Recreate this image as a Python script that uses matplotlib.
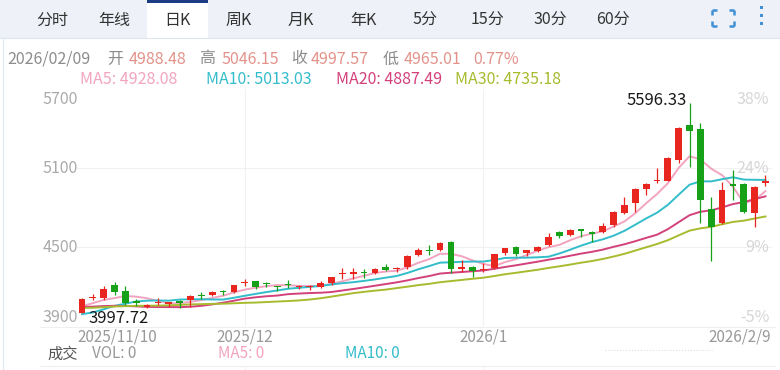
import matplotlib
matplotlib.use("Agg")
import matplotlib.pyplot as plt
import numpy as np
import pandas as pd

plt.rcParams['font.family'] = ['Noto Sans CJK SC', 'DejaVu Sans']

# ---- data (daily K, 2025/11/10 .. 2026/02/09) ----
opens = [4000, 4112, 4113, 4211, 4166, 4090, 4045, 4075, 4070, 4092,
         4100, 4130, 4138, 4168, 4158, 4225, 4240, 4222, 4198, 4215,
         4195, 4193, 4198, 4225, 4295, 4298, 4308, 4305, 4350, 4330,
         4348, 4440, 4480, 4475, 4540, 4335, 4350, 4325, 4340, 4455,
         4500, 4455, 4470, 4515, 4614, 4590, 4635, 4615, 4614, 4667,
         4758, 4834, 4940, 5000, 5005, 5160, 5427, 5400, 4790, 4682,
         4975, 4978, 4760, 4988.48]
highs = [4112, 4140, 4204, 4234, 4204, 4105, 4065, 4110, 4085, 4095,
         4135, 4160, 4165, 4170, 4215, 4255, 4245, 4235, 4205, 4250,
         4210, 4215, 4240, 4275, 4340, 4340, 4330, 4340, 4370, 4345,
         4440, 4490, 4515, 4540, 4545, 4400, 4355, 4375, 4450, 4495,
         4505, 4480, 4510, 4610, 4625, 4635, 4640, 4625, 4680, 4770,
         4880, 4950, 4985, 5100, 5180, 5410, 5596.33, 5445, 4880, 4990,
         5085, 4985, 4965, 5046.15]
lows = [3997.72, 4100, 4098, 4135, 4060, 4052, 4035, 4060, 4045, 4040,
        4045, 4105, 4130, 4135, 4150, 4205, 4180, 4200, 4165, 4190,
        4180, 4175, 4185, 4215, 4255, 4260, 4265, 4295, 4320, 4310,
        4335, 4430, 4440, 4470, 4300, 4310, 4270, 4310, 4330, 4440,
        4430, 4430, 4460, 4510, 4570, 4585, 4575, 4540, 4605, 4650,
        4750, 4766, 4895, 4985, 5000, 5140, 5105, 4680, 4394, 4675,
        4857, 4755, 4650, 4965.01]
closes = [4105, 4120, 4181, 4160, 4075, 4078, 4058, 4080, 4072, 4078,
          4128, 4125, 4160, 4155, 4210, 4230, 4200, 4218, 4196, 4208,
          4198, 4198, 4226, 4272, 4305, 4305, 4300, 4330, 4328, 4335,
          4432, 4475, 4470, 4530, 4335, 4340, 4318, 4333, 4447, 4490,
          4450, 4475, 4500, 4575, 4580, 4628, 4625, 4600, 4660, 4766,
          4820, 4940, 4975, 5010, 5176, 5404, 5380, 4857, 4655, 4933,
          4965, 4766, 4959.39, 4997.57]
# closes before the visible window, only used to start the moving averages
prior_closes = [4060, 4045, 4010, 3990, 4020, 4035, 4050, 4000, 3990, 4010,
                4070, 4090, 4120, 4110, 4130, 4140, 4100, 4080, 4090, 4060,
                3990, 3940, 3900, 3910, 3910, 4000, 4060, 4090, 3994]

last_date = "2026/02/09"
last_chg = 0.77
ma_periods = [5, 10, 20, 30]
ma_last = [4928.08, 5013.03, 4887.49, 4735.18]
ma_colors = ['#f2a4c0', '#33bdca', '#d3417b', '#a8bb2e']

date_idx = [0, 15, 37, 63]
date_labels = ["2025/11/10", "2025/12", "2026/1", "2026/2/9"]
month_idx = [15, 37]

y_ticks = [3900, 4500, 5100, 5700]
pct_labels = ["-5%", "9%", "24%", "38%"]

tabs = ["分时", "年线", "日K", "周K", "月K", "年K", "5分", "15分", "30分", "60分"]
active_tab = "日K"

RED = '#e8261f'
GREEN = '#17a118'
GRAY = '#8c8c8c'
VALC = '#e3928a'

W, H = 780, 370
fig = plt.figure(figsize=(W / 100, H / 100), dpi=100)
fig.patch.set_facecolor('white')

# pixel-space layer for the surrounding chrome
bg = fig.add_axes([0, 0, 1, 1], zorder=0)
bg.set_xlim(0, W)
bg.set_ylim(H, 0)
bg.axis('off')

# tab bar
bg.add_patch(plt.Rectangle((0, 0), W, 38, color='#eef2f8', lw=0))
bg.plot([0, W], [38, 38], color='#dfe5ee', lw=0.8)
tab_x = [52, 114, 177, 239, 301, 363, 425, 488, 550, 613]
for t, x in zip(tabs, tab_x):
    if t == active_tab:
        bg.add_patch(plt.Rectangle((x - 30, 0), 61, 38.5, color='white', lw=0))
        bg.add_patch(plt.Rectangle((x - 30, 0), 61, 3, color='#1b3c84', lw=0))
    bg.text(x, 20, t, ha='center', va='center', fontsize=11.5, color='#333333')

# fullscreen icon and menu dots
ic = '#3f8fd4'
for sx, sy in [(712, 10), (734, 10), (712, 26), (734, 26)]:
    dx = 5 if sx == 712 else -5
    dy = 5 if sy == 10 else -5
    bg.plot([sx, sx + dx], [sy, sy], color=ic, lw=1.8, solid_capstyle='butt')
    bg.plot([sx, sx], [sy, sy + dy], color=ic, lw=1.8, solid_capstyle='butt')
for dy in [7, 15, 23]:
    bg.add_patch(plt.Rectangle((759.5, dy - 1.5), 3, 3, color=ic, lw=0))

bg.plot([3, 3], [38, H], color='#dcebee', lw=0.8)

# info line
line1 = [(last_date, GRAY, 7), ("开", GRAY, 107), (f"{opens[-1]:.2f}", VALC, 129),
         ("高", GRAY, 199), (f"{highs[-1]:.2f}", VALC, 221),
         ("收", GRAY, 291), (f"{closes[-1]:.2f}", VALC, 311),
         ("低", GRAY, 383), (f"{lows[-1]:.2f}", VALC, 404),
         (f"{last_chg:.2f}%", VALC, 473)]
for t, c, x in line1:
    bg.text(x, 59, t, ha='left', va='center', fontsize=11.5, color=c)

ma_x = [80, 206, 336, 455]
for p, v, c, x in zip(ma_periods, ma_last, ma_colors, ma_x):
    bg.text(x, 80, f"MA{p}: {v:.2f}", ha='left', va='center', fontsize=11.5, color=c)

# separators and lower pane
bg.plot([40, 775], [326.5, 326.5], color='#efefef', lw=0.8)
bg.plot([40, 775], [365.5, 365.5], color='#efefef', lw=0.8)
vol_y = 354
bg.text(78, vol_y, "成交", ha='right', va='center', fontsize=11, color='#555555')
bg.text(92, vol_y, "VOL: 0", ha='left', va='center', fontsize=11, color='#999999')
bg.text(218, vol_y, "MA5: 0", ha='left', va='center', fontsize=11, color=ma_colors[0])
bg.text(345, vol_y, "MA10: 0", ha='left', va='center', fontsize=11, color=ma_colors[1])
bg.plot([605, 713], [350, 350], color='#e0e0e0', lw=0.8, ls=':')

# price chart
ax = fig.add_axes([77 / W, (H - 326) / H, 695 / W, 237 / H], zorder=1)
ax.patch.set_alpha(0)
for s in ax.spines.values():
    s.set_visible(False)
ax.set_xticks([])
ax.set_yticks([])
ax.set_xlim(-0.46, 63.6)
ax.set_ylim(y_ticks[0], y_ticks[-1])

for v in y_ticks[1:-1]:
    ax.axhline(v, color='#f1f1f1', lw=0.8, zorder=0)
for i in month_idx:
    ax.axvline(i, color='#f1f1f1', lw=0.8, zorder=0)
    bg.plot([ax.transData.transform((i, 0))[0]] * 2, [366, H], color='#f1f1f1', lw=0.8)

o = np.array(opens)
h = np.array(highs)
l = np.array(lows)
c = np.array(closes)
x = np.arange(len(c))
up = c >= o
colors = np.where(up, RED, GREEN)

all_close = pd.Series(prior_closes + closes)
for p, col in zip(ma_periods, ma_colors):
    ma = all_close.rolling(p).mean().iloc[len(prior_closes):].to_numpy()
    ax.plot(x, ma, color=col, lw=1.4, zorder=2)

ax.vlines(x, l, h, colors=colors, lw=0.9, zorder=3)
body_lo = np.minimum(o, c)
body_h = np.maximum(np.abs(c - o), 11)
ax.bar(x, body_h, bottom=body_lo, width=0.62, color=colors, lw=0, zorder=4)

hi_i = int(np.argmax(h))
lo_i = int(np.argmin(l))
ax.annotate(f"{h[hi_i]:.2f}", xy=(hi_i, h[hi_i]), xytext=(-3, 2),
            textcoords='offset pixels', ha='right', va='center',
            fontsize=12, color='#1a1a1a')
ax.annotate(f"{l[lo_i]:.2f}", xy=(lo_i, l[lo_i]), xytext=(6, -5),
            textcoords='offset pixels', ha='left', va='center',
            fontsize=12, color='#1a1a1a')

# axis labels: left prices, right percentages
ytr = ax.get_yaxis_transform()
offs = [8, 0, 0, -10]
for v, lab, dy in zip(y_ticks, pct_labels, offs):
    ax.annotate(f"{v}", xy=(0, v), xycoords=ytr, xytext=(1, dy),
                textcoords='offset pixels', ha='right', va='center',
                fontsize=11.5, color='#aaaaaa')
    ax.annotate(lab, xy=(0.996, v), xycoords=ytr, xytext=(0, dy),
                textcoords='offset pixels', ha='right', va='center',
                fontsize=11.5, color='#d6d6d6')

# date labels
xtr = ax.get_xaxis_transform()
xl = ax.get_xlim()
for i, lab in zip(date_idx, date_labels):
    if i == date_idx[0]:
        xp, ha = xl[0], 'left'
    elif i == date_idx[-1]:
        xp, ha = xl[1] - 0.1, 'right'
    else:
        xp, ha = i, 'center'
    ax.text(xp, -11 / 237, lab, transform=xtr, ha=ha, va='center',
            fontsize=11, color='#999999')

fig.savefig("out.png", dpi=100)
